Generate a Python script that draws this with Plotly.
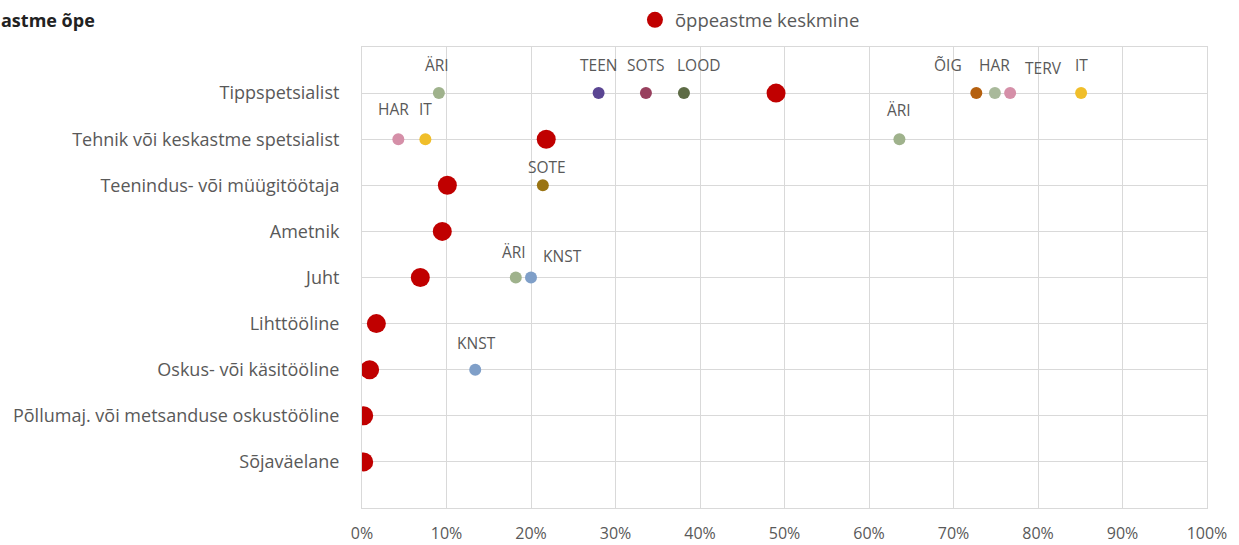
import plotly.graph_objects as go

categories = [
    "Tippspetsialist",
    "Tehnik või keskastme spetsialist",
    "Teenindus- või müügitöötaja",
    "Ametnik",
    "Juht",
    "Lihttööline",
    "Oskus- või käsitööline",
    "Põllumaj. või metsanduse oskustööline",
    "Sõjaväelane",
]
avg_values = [0.490, 0.218, 0.101, 0.095, 0.069, 0.017, 0.009, 0.002, 0.002]

field_category = ["Tippspetsialist"] * 8 + ["Tehnik või keskastme spetsialist"] * 3 + [
    "Teenindus- või müügitöötaja", "Juht", "Juht", "Oskus- või käsitööline"]
field_names = ["ÄRI", "TEEN", "SOTS", "LOOD", "ÕIG", "TERV", "HAR", "IT",
               "HAR", "IT", "ÄRI", "SOTE", "ÄRI", "KNST", "KNST"]
field_values = [0.091, 0.280, 0.336, 0.381, 0.727, 0.749, 0.767, 0.851,
                0.043, 0.075, 0.636, 0.214, 0.182, 0.200, 0.134]

x_ticks = [i / 10 for i in range(11)]

# styles
field_colors = {
    "ÄRI": "#9fb28c", "TEEN": "#5a4592", "SOTS": "#98405e", "LOOD": "#5d6b45",
    "ÕIG": "#b5600f", "TERV": "#a9b99b", "HAR": "#d58fa8", "IT": "#f0be2a",
    "SOTE": "#9a7413", "KNST": "#7f9fc8",
}
# label offsets (px) relative to the point: (dx, dy up)
label_offsets = [(-2, 28), (0, 28), (0, 28), (15, 28), (-28, 28), (49, 25), (-16, 28), (0, 28),
                 (-5, 30), (0, 30), (0, 29), (4, 18), (-2, 26), (31, 22), (1, 27)]

cat_idx = {c: i for i, c in enumerate(categories)}
grey = "#595959"
font_family = "Open Sans, Liberation Sans, sans-serif"

fig = go.Figure()
for i, (c, n, v) in enumerate(zip(field_category, field_names, field_values)):
    fig.add_trace(go.Scatter(
        x=[v], y=[cat_idx[c]], mode="markers",
        marker=dict(size=12, color=field_colors[n]),
        showlegend=False, hoverinfo="x+text", text=[n],
    ))
    dx, dy = label_offsets[i]
    fig.add_annotation(x=v, y=cat_idx[c], text=n, showarrow=False,
                       xshift=dx, yshift=dy, font=dict(size=15.5, color=grey, family=font_family))

fig.add_trace(go.Scatter(
    x=avg_values, y=[cat_idx[c] for c in categories], mode="markers",
    marker=dict(size=19, color="#c00000"), name="õppeastme keskmine",
))

fig.add_annotation(text="<b>astme õpe</b>", xref="paper", yref="paper",
                   x=-0.429, y=1.058, xanchor="left", yanchor="middle", showarrow=False,
                   font=dict(size=18, color="#222222", family=font_family))

fig.update_layout(
    width=1239, height=545,
    margin=dict(l=362, r=32, t=47, b=37, autoexpand=False),
    plot_bgcolor="white", paper_bgcolor="white",
    font=dict(family=font_family, color=grey, size=15),
    legend=dict(orientation="h", x=0.323, y=1.058, xanchor="left", yanchor="middle",
                font=dict(size=18.5, color=grey), bgcolor="rgba(0,0,0,0)"),
    xaxis=dict(range=[0, 1], tickvals=x_ticks, tickformat=".0%", showgrid=True,
               gridcolor="#d9d9d9", gridwidth=1, zeroline=False, showline=True,
               linecolor="#d9d9d9", mirror=True, ticks="", ticklabelstandoff=11,
               automargin=False, tickfont=dict(size=16, color=grey)),
    yaxis=dict(range=[9, -1], tickvals=list(range(len(categories))), ticktext=categories,
               showgrid=True, gridcolor="#d9d9d9", gridwidth=1, zeroline=False,
               showline=True, linecolor="#d9d9d9", mirror=True, ticks="",
               automargin=False, ticklabelstandoff=18, tickfont=dict(size=18, color=grey)),
)

fig.write_html("out.html", post_script="document.body.style.margin='0';",
               config={"displayModeBar": False})
